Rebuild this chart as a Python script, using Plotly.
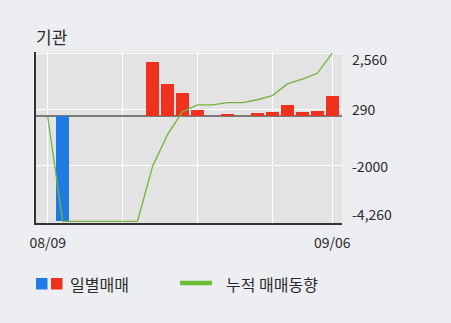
import plotly.graph_objects as go

# ---- data ----
dates = ["08/09", "08/12", "08/13", "08/14", "08/16", "08/19", "08/20", "08/21",
         "08/22", "08/23", "08/26", "08/27", "08/28", "08/29", "08/30", "09/02",
         "09/03", "09/04", "09/05", "09/06"]
daily = [0, -4260, 0, 0, 0, 0, 0, 2220, 1295, 937, 274, 0, 91, 0, 115, 171,
         472, 195, 235, 815]
cumulative = [0, -4260, -4260, -4260, -4260, -4260, -4260, -2040, -745, 192,
              466, 466, 557, 557, 672, 843, 1315, 1510, 1745, 2560]
y_tick_vals = [2560, 290, -2000, -4260]
y_tick_text = ["2,560", "290", "-2000", "-4,260"]
x_grid_idx = [0, 5, 10, 15, 19]
title_text = "기관"
legend_daily = "일별매매"
legend_cum = "누적 매매동향"

BLUE = "#1f7ae6"
RED = "#f0311d"
GREEN = "#74b43e"
FONT = "Noto Sans CJK KR"
TXT = "#2a2a2a"

W, H = 451, 323
ML, MR, MT, MB = 36, 109, 52, 100
PW, PH = W - ML - MR, H - MT - MB


def px_x(px):
    return (px - ML) / PW


def px_y(py):
    return (H - MB - py) / PH


fig = go.Figure()
fig.add_bar(
    x=dates, y=daily,
    marker=dict(color=[BLUE if v < 0 else RED for v in daily], line=dict(width=0)),
    width=0.84, showlegend=False,
)
fig.add_scatter(
    x=dates, y=cumulative, mode="lines",
    line=dict(color=GREEN, width=1.3), showlegend=False,
)

tickvals = [dates[i] for i in x_grid_idx]
ticktext = [dates[0]] + [""] * (len(x_grid_idx) - 2) + [dates[-1]]

fig.update_xaxes(
    type="category", range=[-0.78, 19.65],
    tickvals=tickvals, ticktext=ticktext,
    showgrid=True, gridcolor="white", gridwidth=1,
    showline=True, linecolor="#333333", linewidth=2,
    ticks="outside", ticklen=6, tickcolor="rgba(0,0,0,0)",
    tickfont=dict(family=FONT, size=14, color=TXT),
    zeroline=False, fixedrange=True,
)
fig.update_yaxes(
    range=[-4330, 2610],
    tickvals=y_tick_vals[:3], showticklabels=False,
    showgrid=True, gridcolor="white", gridwidth=1,
    zeroline=True, zerolinecolor="#7a7a7a", zerolinewidth=2,
    showline=True, linecolor="#333333", linewidth=2,
    fixedrange=True,
)

annotations = []
for v, t, sh in zip(y_tick_vals, y_tick_text, [-6, 0, 0, 7]):
    annotations.append(dict(
        x=1, xref="paper", xanchor="left", xshift=8,
        y=v, yref="y", yanchor="middle", yshift=sh,
        text=t, showarrow=False,
        font=dict(family=FONT, size=14, color=TXT),
    ))

annotations.append(dict(
    x=px_x(34), xref="paper", xanchor="left",
    y=px_y(37), yref="paper", yanchor="middle",
    text=title_text, showarrow=False,
    font=dict(family=FONT, size=17, color=TXT),
))
annotations.append(dict(
    x=px_x(68), xref="paper", xanchor="left",
    y=px_y(283.5), yref="paper", yanchor="middle",
    text=legend_daily, showarrow=False,
    font=dict(family=FONT, size=16, color=TXT),
))
annotations.append(dict(
    x=px_x(224), xref="paper", xanchor="left",
    y=px_y(283.5), yref="paper", yanchor="middle",
    text=legend_cum, showarrow=False,
    font=dict(family=FONT, size=16, color=TXT),
))

shapes = [
    dict(type="rect", xref="paper", yref="paper",
         x0=px_x(36), x1=px_x(47.5), y0=px_y(289.5), y1=px_y(278),
         fillcolor=BLUE, line=dict(width=0)),
    dict(type="rect", xref="paper", yref="paper",
         x0=px_x(51), x1=px_x(62.5), y0=px_y(289.5), y1=px_y(278),
         fillcolor=RED, line=dict(width=0)),
    dict(type="line", xref="paper", yref="paper",
         x0=px_x(180), x1=px_x(212), y0=px_y(283), y1=px_y(283),
         line=dict(color="#6cbd38", width=4.5)),
]

fig.update_layout(
    width=W, height=H,
    margin=dict(l=ML, r=MR, t=MT, b=MB, pad=0),
    paper_bgcolor="#edeef2", plot_bgcolor="#e3e3e3",
    bargap=0, showlegend=False,
    annotations=annotations, shapes=shapes,
    font=dict(family=FONT, color=TXT),
)

fig.write_html("out.html", config={"displayModeBar": False})
